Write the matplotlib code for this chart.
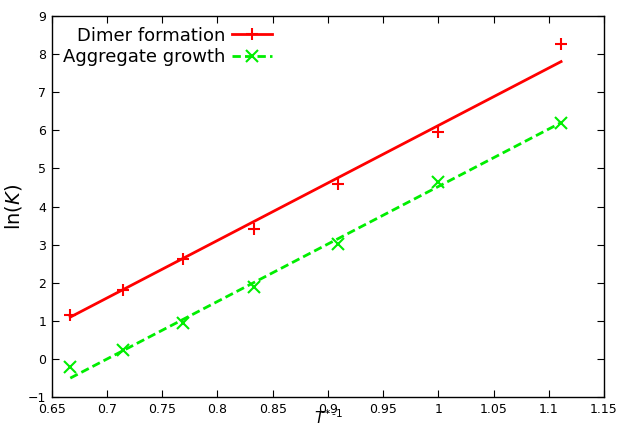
import numpy as np
import matplotlib
matplotlib.use("Agg")
import matplotlib.pyplot as plt

inv_t = [0.6667, 0.7143, 0.7692, 0.8333, 0.9091, 1.0, 1.1111]
dimer = [1.15, 1.8, 2.62, 3.42, 4.6, 5.95, 8.25]
aggregate = [-0.22, 0.25, 0.95, 1.9, 3.03, 4.63, 6.18]

fit_x = [0.6667, 1.1111]
dimer_fit = [1.1, 7.8]
aggregate_fit = [-0.5, 6.2]

fig = plt.figure(figsize=(6.17, 4.28), dpi=100)
ax = fig.add_axes([0.084, 0.072, 0.895, 0.891])

red = "#ff0000"
green = "#00ee00"

ax.plot(fit_x, dimer_fit, color=red, lw=2)
ax.plot(fit_x, aggregate_fit, color=green, lw=2, ls=(0, (3, 1.5)))
ax.plot(inv_t, dimer, ls="none", marker="+", ms=9, mew=1.5, color=red)
ax.plot(inv_t, aggregate, ls="none", marker="x", ms=8, mew=1.5, color=green)

# legend handles: line with marker
h1, = ax.plot([], [], color=red, lw=2, marker="+", ms=9, mew=1.5)
h2, = ax.plot([], [], color=green, lw=2, ls=(0, (3, 1.5)), marker="x", ms=8, mew=1.5)
leg = ax.legend([h1, h2], ["Dimer formation", "Aggregate growth"],
                loc="upper left", markerfirst=False, frameon=False,
                fontsize=13, handlelength=2.2, handletextpad=0.4,
                labelspacing=0.2, borderaxespad=0.2,
                bbox_to_anchor=(0.0, 1.0))
for t in leg.get_texts():
    t.set_ha("right")

ax.set_xlim(0.65, 1.15)
ax.set_ylim(-1, 9)
ax.set_xticks(np.arange(0.65, 1.151, 0.05))
ax.set_xticklabels(["0.65", "0.7", "0.75", "0.8", "0.85", "0.9",
                    "0.95", "1", "1.05", "1.1", "1.15"])
ax.set_yticks(range(-1, 10))
ax.tick_params(direction="in", top=True, right=True, labelsize=9,
               length=5, width=0.8, pad=4)
for s in ax.spines.values():
    s.set_linewidth(1.0)

# x label sits just under the 0.9 tick label, like the gnuplot original
fig.text(329 / 617, 1 - 424 / 428, r"$T^{*\,\text{-}1}$", fontsize=11,
         ha="center", va="baseline")
ax.set_ylabel(r"ln($K$)", fontsize=14)
ax.yaxis.set_label_coords(-0.05, 0.5)

fig.savefig("out.png", dpi=100)
